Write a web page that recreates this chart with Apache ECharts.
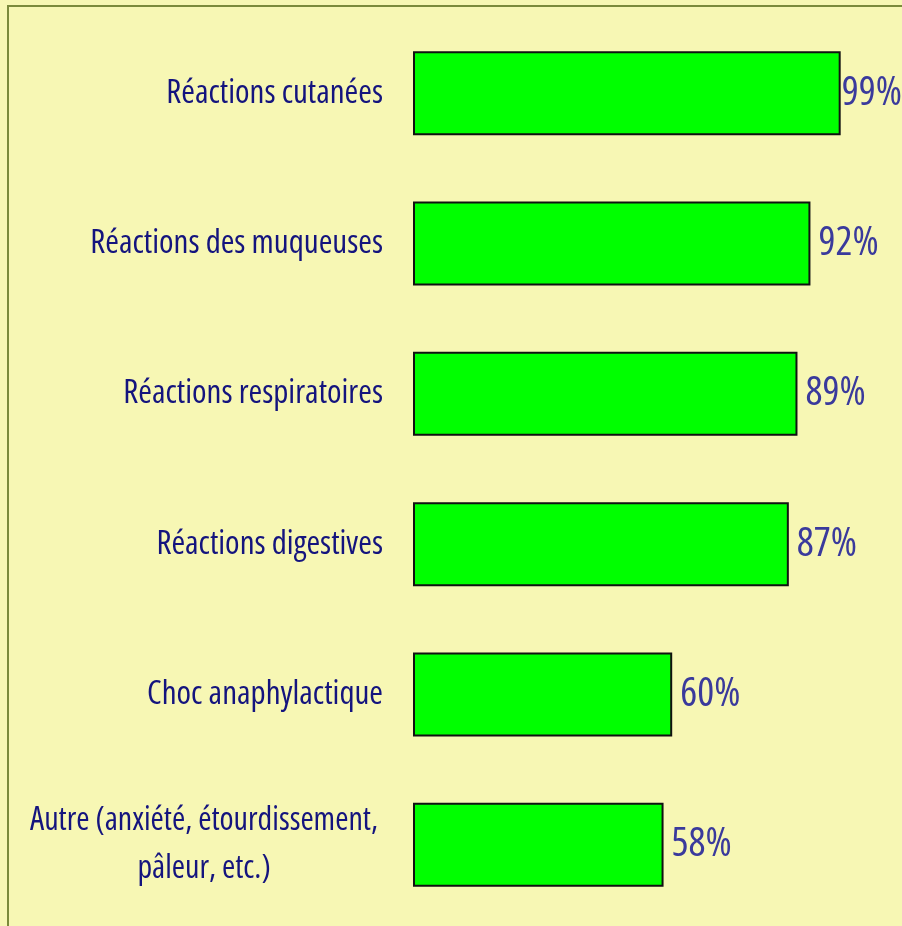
<!DOCTYPE html>
<html>
<head>
<meta charset="utf-8">
<script src="https://cdn.jsdelivr.net/npm/echarts@6/dist/echarts.min.js"></script>
<style>
html, body { margin: 0; padding: 0; background: #f7f7b4; }
#main { width: 902px; height: 926px; }
</style>
</head>
<body>
<div id="main"></div>
<script>
var categories = [
    'Réactions cutanées',
    'Réactions des muqueuses',
    'Réactions respiratoires',
    'Réactions digestives',
    'Choc anaphylactique',
    'Autre (anxiété, étourdissement,\npâleur, etc.)'
];
var values = [99, 92, 89, 87, 60, 58];

// "condensed" goes into the canvas font shorthand as font-stretch
var narrowFont = '"Open Sans", Roboto, sans-serif';
var narrow = 'condensed';

var chart = echarts.init(document.getElementById('main'));

var seriesData = values.map(function (v, i) {
    var item = { value: v };
    // first label sits tight against the bar
    if (i === 0) item.label = { distance: 1 };
    return item;
});

var option = {
    backgroundColor: '#f7f7b4',
    animation: false,
    graphic: [{
        type: 'rect',
        shape: { x: 8, y: 6, width: 1000, height: 1000 },
        style: { fill: 'none', stroke: '#7b8a3c', lineWidth: 2 }
    }],
    grid: { left: 413, right: 57, top: 18, bottom: 6, outerBoundsMode: 'none', containLabel: false },
    xAxis: {
        type: 'value',
        min: 0,
        max: 100,
        show: false
    },
    yAxis: {
        type: 'category',
        inverse: true,
        data: categories,
        axisLine: { show: false },
        axisTick: { show: false },
        axisLabel: {
            margin: 30,
            color: '#14147e',
            fontFamily: narrowFont,
            fontWeight: narrow,
            fontSize: 33,
            lineHeight: 48,
            formatter: function (v) {
                if (v.indexOf('\n') >= 0) return '{c|' + v + '}';
                return v;
            },
            rich: {
                c: { width: 346, align: 'center', fontSize: 32, lineHeight: 48,
                     color: '#14147e', fontFamily: narrowFont, fontWeight: narrow,
                     padding: [0, 6, 0, 0] }
            }
        }
    },
    series: [{
        type: 'bar',
        data: seriesData,
        barWidth: 84,
        itemStyle: { color: '#00ff00', borderColor: '#111', borderWidth: 2 },
        label: {
            show: true,
            position: 'right',
            distance: 8,
            formatter: '{c}%',
            color: '#3a3a9c',
            fontFamily: narrowFont,
            fontWeight: narrow,
            fontSize: 40
        }
    }]
};
chart.setOption(option);
</script>
</body>
</html>
